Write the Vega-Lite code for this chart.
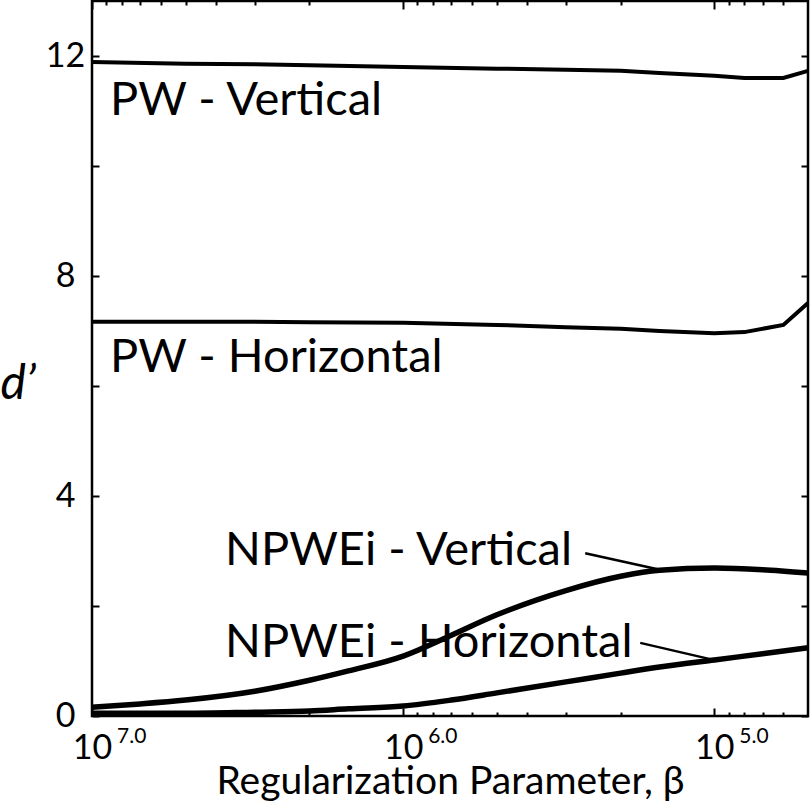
{
  "$schema": "https://vega.github.io/schema/vega-lite/v6.json",
  "width": 716,
  "height": 715,
  "autosize": "none",
  "padding": {"left": 92, "top": 1, "right": 2, "bottom": 90},
  "background": "white",
  "config": {
    "view": {"stroke": "black", "strokeWidth": 2.5},
    "font": "Lato",
    "axis": {"grid": false, "domain": false, "ticks": true, "tickColor": "black", "tickWidth": 2, "labelColor": "black", "titleColor": "black", "labelFont": "Lato", "titleFont": "Lato", "titleFontWeight": "normal"}
  },
  "datasets": {
    "curves": [
      {"series": "PW - Vertical", "beta": 10000000, "d": 11.89},
      {"series": "PW - Vertical", "beta": 5000000, "d": 11.86},
      {"series": "PW - Vertical", "beta": 3000000, "d": 11.85},
      {"series": "PW - Vertical", "beta": 2000000, "d": 11.83},
      {"series": "PW - Vertical", "beta": 1000000, "d": 11.8},
      {"series": "PW - Vertical", "beta": 500000, "d": 11.77},
      {"series": "PW - Vertical", "beta": 300000, "d": 11.75},
      {"series": "PW - Vertical", "beta": 200000, "d": 11.73},
      {"series": "PW - Vertical", "beta": 150000, "d": 11.69},
      {"series": "PW - Vertical", "beta": 100000, "d": 11.64},
      {"series": "PW - Vertical", "beta": 80000, "d": 11.6},
      {"series": "PW - Vertical", "beta": 60000, "d": 11.6},
      {"series": "PW - Vertical", "beta": 50000, "d": 11.73},
      {"series": "PW - Horizontal", "beta": 10000000, "d": 7.17},
      {"series": "PW - Horizontal", "beta": 5000000, "d": 7.17},
      {"series": "PW - Horizontal", "beta": 3000000, "d": 7.17},
      {"series": "PW - Horizontal", "beta": 2000000, "d": 7.16},
      {"series": "PW - Horizontal", "beta": 1000000, "d": 7.15},
      {"series": "PW - Horizontal", "beta": 500000, "d": 7.11},
      {"series": "PW - Horizontal", "beta": 300000, "d": 7.07},
      {"series": "PW - Horizontal", "beta": 200000, "d": 7.04},
      {"series": "PW - Horizontal", "beta": 150000, "d": 7.0},
      {"series": "PW - Horizontal", "beta": 100000, "d": 6.96},
      {"series": "PW - Horizontal", "beta": 80000, "d": 6.98},
      {"series": "PW - Horizontal", "beta": 60000, "d": 7.11},
      {"series": "PW - Horizontal", "beta": 50000, "d": 7.51},
      {"series": "NPWEi - Vertical", "beta": 10000000, "d": 0.16},
      {"series": "NPWEi - Vertical", "beta": 7000000, "d": 0.22},
      {"series": "NPWEi - Vertical", "beta": 5000000, "d": 0.29},
      {"series": "NPWEi - Vertical", "beta": 3000000, "d": 0.45},
      {"series": "NPWEi - Vertical", "beta": 2000000, "d": 0.65},
      {"series": "NPWEi - Vertical", "beta": 1500000, "d": 0.82},
      {"series": "NPWEi - Vertical", "beta": 1000000, "d": 1.09},
      {"series": "NPWEi - Vertical", "beta": 700000, "d": 1.47},
      {"series": "NPWEi - Vertical", "beta": 500000, "d": 1.84},
      {"series": "NPWEi - Vertical", "beta": 300000, "d": 2.28},
      {"series": "NPWEi - Vertical", "beta": 200000, "d": 2.54},
      {"series": "NPWEi - Vertical", "beta": 150000, "d": 2.65},
      {"series": "NPWEi - Vertical", "beta": 100000, "d": 2.69},
      {"series": "NPWEi - Vertical", "beta": 70000, "d": 2.66},
      {"series": "NPWEi - Vertical", "beta": 50000, "d": 2.6},
      {"series": "NPWEi - Horizontal", "beta": 10000000, "d": 0.05},
      {"series": "NPWEi - Horizontal", "beta": 5000000, "d": 0.05},
      {"series": "NPWEi - Horizontal", "beta": 3000000, "d": 0.07},
      {"series": "NPWEi - Horizontal", "beta": 2000000, "d": 0.09},
      {"series": "NPWEi - Horizontal", "beta": 1500000, "d": 0.13},
      {"series": "NPWEi - Horizontal", "beta": 1000000, "d": 0.18},
      {"series": "NPWEi - Horizontal", "beta": 700000, "d": 0.29},
      {"series": "NPWEi - Horizontal", "beta": 500000, "d": 0.42},
      {"series": "NPWEi - Horizontal", "beta": 300000, "d": 0.62},
      {"series": "NPWEi - Horizontal", "beta": 200000, "d": 0.78},
      {"series": "NPWEi - Horizontal", "beta": 150000, "d": 0.89},
      {"series": "NPWEi - Horizontal", "beta": 100000, "d": 1.02},
      {"series": "NPWEi - Horizontal", "beta": 70000, "d": 1.13},
      {"series": "NPWEi - Horizontal", "beta": 50000, "d": 1.24}
    ],
    "labels": [
      {"label": "PW - Vertical", "beta": 8750000, "d": 10.93},
      {"label": "PW - Horizontal", "beta": 8750000, "d": 6.25},
      {"label": "NPWEi - Vertical", "beta": 3735000, "d": 2.745},
      {"label": "NPWEi - Horizontal", "beta": 3735000, "d": 1.073}
    ],
    "leaders": [
      {"label": "NPWEi - Vertical", "beta": 260000, "d": 2.96, "beta2": 147000, "d2": 2.65},
      {"label": "NPWEi - Horizontal", "beta": 173000, "d": 1.33, "beta2": 100700, "d2": 1.02}
    ],
    "exps": [
      {"beta": 10000000, "e": "7.0"},
      {"beta": 1000000, "e": "6.0"},
      {"beta": 100000, "e": "5.0"}
    ]
  },
  "resolve": {"axis": {"x": "independent", "y": "independent"}},
  "layer": [
    {
      "data": {"name": "curves"},
      "transform": [{"filter": "indexof(datum.series, 'PW -') == 0"}],
      "mark": {"type": "line", "color": "black", "strokeWidth": 4, "interpolate": "linear"},
      "encoding": {
        "detail": {"field": "series", "type": "nominal"},
        "x": {
          "field": "beta", "type": "quantitative",
          "scale": {"type": "log", "domain": [50000, 10000000], "reverse": true, "nice": false, "zero": false},
          "axis": {
            "orient": "bottom",
            "offset": -8,
            "values": [10000000, 1000000, 100000],
            "labelExpr": "'10'",
            "tickSize": 8,
            "labelFontSize": 34,
            "labelPadding": 15,
            "labelBaseline": "top",
            "labelAlign": "center",
            "labelDx": 6,
            "labelFlush": false,
            "labelOverlap": false,
            "labelBound": false,
            "title": "Regularization Parameter, β",
            "titleFontSize": 39,
            "titleY": 85,
            "titleBaseline": "alphabetic"
          }
        },
        "y": {
          "field": "d", "type": "quantitative",
          "scale": {"domain": [0, 13], "nice": false, "zero": true},
          "axis": {
            "orient": "left",
            "offset": -7,
            "values": [0, 2, 4, 6, 8, 10, 12],
            "labelExpr": "datum.value % 4 == 0 ? datum.label : ''",
            "tickSize": 7,
            "labelFontSize": 34,
            "labelPadding": 27,
            "labelAlign": "center",
            "labelDy": 7,
            "labelOverlap": false,
            "labelBound": false,
            "title": "d’",
            "titleFontSize": 48,
            "titleFontStyle": "italic",
            "titleAngle": 0,
            "titleX": -99,
            "titleY": 397,
            "titleAlign": "left",
            "titleBaseline": "alphabetic"
          }
        }
      }
    },
    {
      "data": {"name": "curves"},
      "transform": [{"filter": "indexof(datum.series, 'NPWEi') == 0"}],
      "mark": {"type": "line", "color": "black", "strokeWidth": 5.5, "interpolate": "monotone"},
      "encoding": {
        "detail": {"field": "series", "type": "nominal"},
        "x": {
          "field": "beta", "type": "quantitative",
          "axis": {
            "orient": "top",
            "offset": -8,
            "values": [10000000, 1000000, 100000],
            "labels": false,
            "tickSize": 8,
            "title": null
          }
        },
        "y": {
          "field": "d", "type": "quantitative",
          "axis": {"orient": "right", "offset": -7, "values": [0, 2, 4, 6, 8, 10, 12], "labels": false, "tickSize": 7, "title": null}
        }
      }
    },
    {
      "data": {"name": "leaders"},
      "mark": {"type": "rule", "color": "black", "strokeWidth": 2.5},
      "encoding": {
        "x": {
          "field": "beta", "type": "quantitative",
          "axis": {
            "orient": "bottom",
            "offset": -4,
            "values": [9000000, 8000000, 7000000, 6000000, 5000000, 4000000, 3000000, 2000000, 900000, 800000, 700000, 600000, 500000, 400000, 300000, 200000, 90000, 80000, 70000, 60000],
            "labels": false,
            "tickSize": 4,
            "title": null
          }
        },
        "x2": {"field": "beta2"},
        "y": {"field": "d", "type": "quantitative", "axis": null},
        "y2": {"field": "d2"}
      }
    },
    {
      "data": {"name": "labels"},
      "mark": {"type": "text", "color": "black", "fontSize": 47, "align": "left", "baseline": "alphabetic", "font": "Lato"},
      "encoding": {
        "x": {
          "field": "beta", "type": "quantitative",
          "axis": {
            "orient": "top",
            "offset": -4,
            "values": [9000000, 8000000, 7000000, 6000000, 5000000, 4000000, 3000000, 2000000, 900000, 800000, 700000, 600000, 500000, 400000, 300000, 200000, 90000, 80000, 70000, 60000],
            "labels": false,
            "tickSize": 4,
            "title": null
          }
        },
        "y": {"field": "d", "type": "quantitative", "axis": null},
        "text": {"field": "label"}
      }
    },
    {
      "data": {"name": "exps"},
      "mark": {"type": "text", "color": "black", "fontSize": 21, "align": "left", "baseline": "alphabetic", "dx": 25, "dy": 27, "font": "Lato"},
      "encoding": {
        "x": {"field": "beta", "type": "quantitative", "axis": null},
        "y": {"datum": 0, "type": "quantitative", "axis": null},
        "text": {"field": "e"}
      }
    }
  ]
}
